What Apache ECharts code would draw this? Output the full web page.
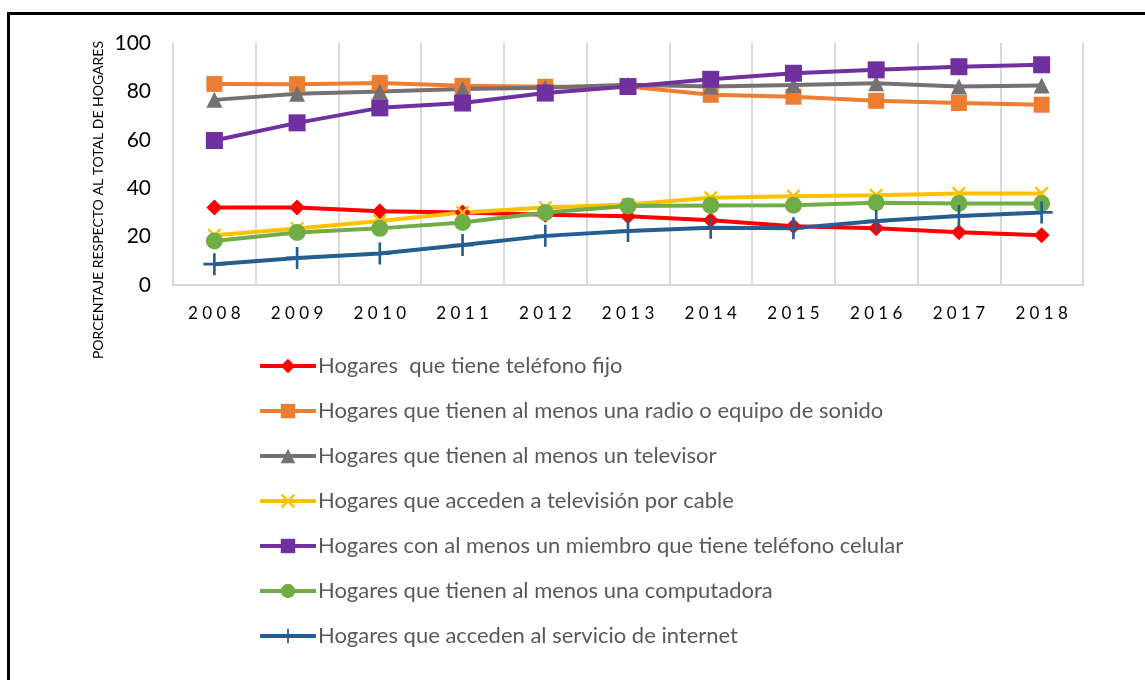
<!DOCTYPE html>
<html>
<head>
<meta charset="utf-8">
<script src="https://cdn.jsdelivr.net/npm/echarts@6/dist/echarts.min.js"></script>
<style>
  html, body { margin: 0; padding: 0; background: #fff; overflow: hidden; }
  #frame { position: absolute; left: 7px; top: 12px; width: 1200px; height: 700px;
           border-top: 3px solid #000; border-left: 3px solid #000; }
  #chart { position: absolute; left: 0; top: 0; width: 1145px; height: 680px; }
</style>
</head>
<body>
<div id="frame"></div>
<div id="chart"></div>
<script>
// categorias (años)
const years = ['2008', '2009', '2010', '2011', '2012', '2013', '2014', '2015', '2016', '2017', '2018']
const yTicks = [0, 20, 40, 60, 80, 100]

// valores (%)
const telefonoFijo = [32, 32, 30.5, 30, 29, 28.4, 26.8, 24.3, 23.4, 21.8, 20.6]
const radio = [83.1, 83, 83.5, 82.3, 81.9, 82, 78.6, 77.8, 76.1, 75.2, 74.5]
const televisor = [76.5, 79, 80, 81, 81.5, 82.7, 82, 82.6, 83.4, 82, 82.4]
const cable = [20.6, 23.3, 26.4, 30, 32, 33.3, 36.1, 36.7, 37.1, 37.8, 37.8]
const celular = [59.7, 67, 73.2, 75.2, 79.3, 82, 85, 87.5, 88.9, 90.2, 91]
const computadora = [18.2, 21.7, 23.4, 25.8, 30, 32.6, 32.9, 33, 34, 33.7, 33.7]
const internet = [8.6, 11.2, 13, 16.5, 20.3, 22.3, 23.7, 23.5, 26.4, 28.5, 30]

const names = [
  'Hogares  que tiene teléfono fijo',
  'Hogares que tienen al menos una radio o equipo de sonido',
  'Hogares que tienen al menos un televisor',
  'Hogares que acceden a televisión por cable',
  'Hogares con al menos un miembro que tiene teléfono celular',
  'Hogares que tienen al menos una computadora',
  'Hogares que acceden al servicio de internet'
]

const xSym = 'path://M0,1.2 L1.2,0 L5,3.8 L8.8,0 L10,1.2 L6.2,5 L10,8.8 L8.8,10 L5,6.2 L1.2,10 L0,8.8 L3.8,5 Z'
const plusSym = 'path://M4.4,0 H5.6 V4.4 H10 V5.6 H5.6 V10 H4.4 V5.6 H0 V4.4 H4.4 Z'

const font = 'Lato, "Noto Sans", sans-serif'

function mkLine(name, data, color, symbol, size) {
  return {
    name: name,
    type: 'line',
    data: data,
    symbol: symbol,
    symbolSize: size,
    lineStyle: { color: color, width: 4 },
    itemStyle: { color: color, opacity: 1 },
    emphasis: { disabled: true }
  }
}

let myChart = echarts.init(document.getElementById('chart'))
let option = {
  animation: false,
  textStyle: { fontFamily: font },
  grid: { left: 173, right: 62, top: 43, bottom: 395, containLabel: false },
  xAxis: {
    type: 'category',
    data: years,
    boundaryGap: true,
    axisLine: { show: true, lineStyle: { color: '#d9d9d9', width: 2 } },
    axisTick: { show: false },
    splitLine: { show: true, lineStyle: { color: '#d9d9d9', width: 2 } },
    axisLabel: {
      color: '#000', fontSize: 17, margin: 20, fontFamily: font,
      formatter: v => v.split('').join(' ')
    }
  },
  yAxis: {
    type: 'value',
    min: yTicks[0],
    max: yTicks[yTicks.length - 1],
    interval: 20,
    axisLine: { show: false },
    axisTick: { show: false },
    splitLine: { show: false },
    axisLabel: { color: '#000', fontSize: 21, margin: 22, fontFamily: font }
  },
  legend: {
    orient: 'vertical',
    left: 258,
    top: 355,
    padding: 0,
    itemWidth: 56,
    itemHeight: 18,
    itemGap: 23,
    lineStyle: { width: 4 },
    textStyle: { color: '#595959', fontSize: 22, lineHeight: 22, fontFamily: font, padding: [0, 0, 0, -3] },
    data: names
  },
  graphic: [{
    type: 'text',
    x: 98,
    y: 200,
    rotation: Math.PI / 2,
    style: {
      text: 'PORCENTAJE RESPECTO AL TOTAL DE HOGARES',
      fill: '#000',
      font: '14px ' + font,
      align: 'center',
      verticalAlign: 'middle'
    }
  }],
  series: [
    mkLine(names[0], telefonoFijo, '#ff0000', 'diamond', 16),
    mkLine(names[1], radio, '#ed7d31', 'rect', 16),
    mkLine(names[2], televisor, '#767171', 'triangle', 16),
    mkLine(names[3], cable, '#ffc000', xSym, 14),
    mkLine(names[4], celular, '#7030a0', 'rect', 17),
    mkLine(names[5], computadora, '#70ad47', 'circle', 17),
    mkLine(names[6], internet, '#255e91', plusSym, 22)
  ]
}
myChart.setOption(option)
</script>
</body>
</html>
